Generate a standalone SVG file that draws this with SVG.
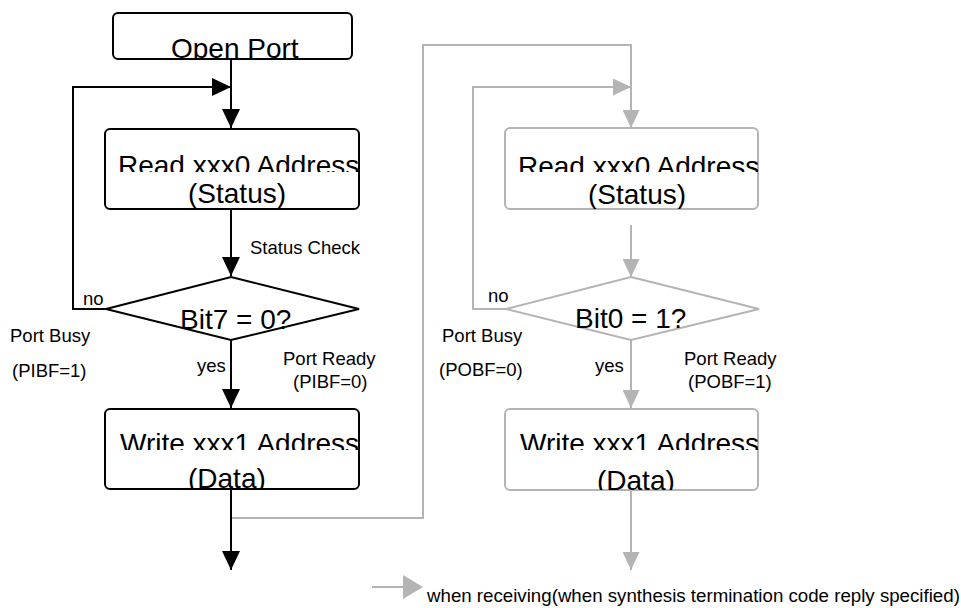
<svg xmlns="http://www.w3.org/2000/svg" width="961" height="608" viewBox="0 0 961 608">
<style>
.box{fill:#fff;stroke:#000;stroke-width:2}
.gbox{fill:#fff;stroke:#b4b4b4;stroke-width:2}
.ln{fill:none;stroke:#000;stroke-width:2}
.gln{fill:none;stroke:#b4b4b4;stroke-width:2}
.big{font-family:"Liberation Sans",Arial,sans-serif;font-size:28px;fill:#000}
.sm{font-family:"Liberation Sans",Arial,sans-serif;font-size:18.5px;fill:#000}
</style>
<defs>
<marker id="ab" viewBox="0 0 19 18" refX="19" refY="9" markerWidth="19" markerHeight="18" markerUnits="userSpaceOnUse" orient="auto"><path d="M0,0 L19,9 L0,18 Z" fill="#000"/></marker>
<marker id="ag" viewBox="0 0 18 17" refX="18" refY="8.5" markerWidth="18" markerHeight="17" markerUnits="userSpaceOnUse" orient="auto"><path d="M0,0 L18,8.5 L0,17 Z" fill="#b4b4b4"/></marker>
<clipPath id="c0" clipPathUnits="userSpaceOnUse"><rect x="113" y="13" width="239" height="46"/></clipPath>
<clipPath id="c1" clipPathUnits="userSpaceOnUse"><rect x="105" y="129" width="254" height="43"/></clipPath>
<clipPath id="c2" clipPathUnits="userSpaceOnUse"><rect x="105" y="172" width="254" height="37"/></clipPath>
<clipPath id="c3" clipPathUnits="userSpaceOnUse"><rect x="105" y="409" width="254" height="41"/></clipPath>
<clipPath id="c4" clipPathUnits="userSpaceOnUse"><rect x="105" y="450" width="254" height="39"/></clipPath>
<clipPath id="c5" clipPathUnits="userSpaceOnUse"><rect x="505" y="128" width="253" height="44"/></clipPath>
<clipPath id="c6" clipPathUnits="userSpaceOnUse"><rect x="505" y="172" width="253" height="37"/></clipPath>
<clipPath id="c7" clipPathUnits="userSpaceOnUse"><rect x="505" y="409" width="253" height="41"/></clipPath>
<clipPath id="c8" clipPathUnits="userSpaceOnUse"><rect x="505" y="450" width="253" height="40"/></clipPath>
</defs>

<g id="connectors">
<polyline class="gln" points="231,518 423,518 423,45 631,45 631,128" marker-end="url(#ag)"/>
<polyline class="gln" points="506,309 473,309 473,87 631,87" marker-end="url(#ag)"/>
<line class="gln" x1="631" y1="225" x2="631" y2="277" marker-end="url(#ag)"/>
<line class="gln" x1="631" y1="340" x2="631" y2="408" marker-end="url(#ag)"/>
<line class="gln" x1="631" y1="490" x2="631" y2="570" marker-end="url(#ag)"/>
<line class="ln" x1="231" y1="59" x2="231" y2="128" marker-end="url(#ab)"/>
<polyline class="ln" points="106,309 73,309 73,87 231,87" marker-end="url(#ab)"/>
<line class="ln" x1="231" y1="209" x2="231" y2="276" marker-end="url(#ab)"/>
<line class="ln" x1="231" y1="340" x2="231" y2="408" marker-end="url(#ab)"/>
<line class="ln" x1="231" y1="489" x2="231" y2="570" marker-end="url(#ab)"/>
</g>

<g id="open-port">
<rect class="box" x="113" y="13" width="239" height="46" rx="5"/>
<text class="big" x="171" y="58" clip-path="url(#c0)">Open Port</text>
</g>

<g id="read-left">
<rect class="box" x="105" y="129" width="254" height="80" rx="5"/>
<text class="big" x="118" y="175" clip-path="url(#c1)">Read xxx0 Address</text>
<text class="big" x="188" y="203" clip-path="url(#c2)">(Status)</text>
</g>

<g id="decision-left">
<polygon class="box" points="231,277 359,309 231,340 106,309"/>
<text class="big" x="180" y="329">Bit7 = 0?</text>
</g>

<g id="write-left">
<rect class="box" x="105" y="409" width="254" height="80" rx="5"/>
<text class="big" x="120" y="453" clip-path="url(#c3)">Write xxx1 Address</text>
<text class="big" x="188" y="488" clip-path="url(#c4)">(Data)</text>
</g>

<g id="read-right">
<rect class="gbox" x="505" y="128" width="253" height="81" rx="5"/>
<text class="big" x="518" y="176" clip-path="url(#c5)">Read xxx0 Address</text>
<text class="big" x="588" y="204" clip-path="url(#c6)">(Status)</text>
</g>

<g id="decision-right">
<polygon class="gbox" points="631,277 759,309 631,340 506,309"/>
<text class="big" x="575" y="328">Bit0 = 1?</text>
</g>

<g id="write-right">
<rect class="gbox" x="505" y="409" width="253" height="81" rx="5"/>
<text class="big" x="520" y="453" clip-path="url(#c7)">Write xxx1 Address</text>
<text class="big" x="597" y="490" clip-path="url(#c8)">(Data)</text>
</g>

<g id="labels">
<text class="sm" x="250" y="254">Status Check</text>
<text class="sm" x="83" y="305">no</text>
<text class="sm" x="10" y="342">Port Busy</text>
<text class="sm" x="12" y="377">(PIBF=1)</text>
<text class="sm" x="197" y="372">yes</text>
<text class="sm" x="283" y="365">Port Ready</text>
<text class="sm" x="293" y="388">(PIBF=0)</text>
<text class="sm" x="488" y="302">no</text>
<text class="sm" x="442" y="342">Port Busy</text>
<text class="sm" x="439" y="376">(POBF=0)</text>
<text class="sm" x="595" y="372">yes</text>
<text class="sm" x="684" y="365">Port Ready</text>
<text class="sm" x="688" y="388">(POBF=1)</text>
</g>

<g id="legend">
<line x1="372" y1="587" x2="404" y2="587" stroke="#b4b4b4" stroke-width="2"/>
<path d="M403,575 L423,587 L403,599 Z" fill="#b4b4b4"/>
<text class="sm" x="427" y="602" style="font-size:18.7px">when receiving(when synthesis termination code reply specified)</text>
</g>
</svg>
